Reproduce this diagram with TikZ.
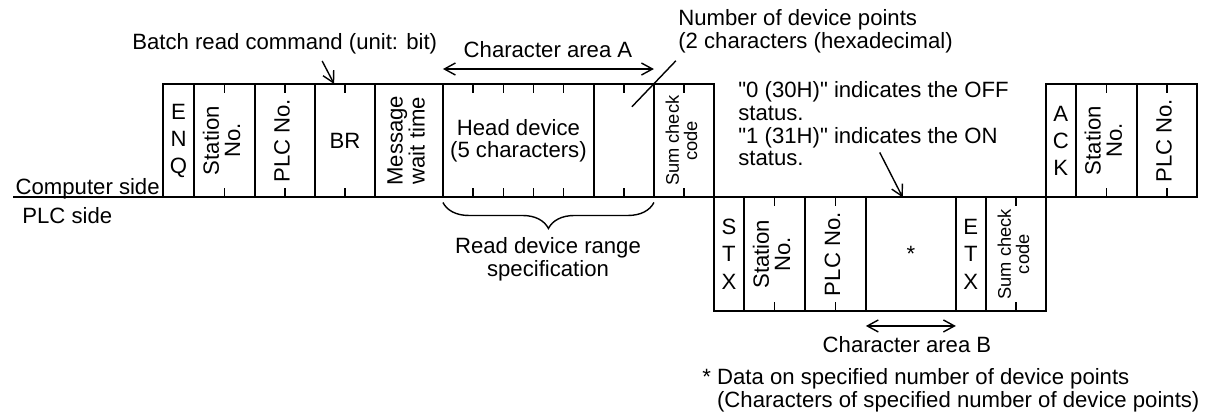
\documentclass[tikz,border=0pt]{standalone}
\usepackage{fontspec}
\setmainfont{Liberation Sans}
\usepackage{graphicx}
\usetikzlibrary{arrows.meta, positioning, calc, decorations.pathreplacing}

\newcommand{\vtext}[1]{\rotatebox{90}{\renewcommand{\arraystretch}{0.88}\begin{tabular}{@{}c@{}}#1\end{tabular}}}

\begin{document}
\begin{tikzpicture}[
  x=0.02cm, y=-0.02cm,
  font=\fontsize{12.6}{13}\selectfont,
  cell/.style={rectangle, draw=black, line width=1.1pt, minimum height=2.27cm,
               inner sep=0pt, outer sep=0pt, align=center},
  onechar/.style={cell, minimum width=0.6cm, font=\fontsize{12.6}{15.5}\selectfont},
  twochar/.style={cell, minimum width=1.2cm},
  smallfont/.style={font=\fontsize{10.4}{10.8}\selectfont},
  tickline/.style={line width=0.8pt},
  arrow/.style={-{Straight Barb[length=2.2mm, width=2.4mm]}, line width=0.8pt},
  darrow/.style={{Straight Barb[length=2.2mm, width=2.4mm]}-{Straight Barb[length=2.2mm, width=2.4mm]}, line width=0.8pt},
  note/.style={inner sep=0pt}
]
\useasboundingbox (0,0) rectangle (1221,414);

% computer side, command
\node[onechar, minimum width=0.62cm, anchor=north west] (enq) at (163,84) {E\\N\\Q};
\node[twochar, minimum width=1.22cm, right=0pt of enq] (stn1) {\vtext{Station\\No.}};
\node[twochar, right=0pt of stn1] (plc1) {\vtext{PLC No.}};
\node[twochar, right=0pt of plc1] (br) {BR};
\node[cell, minimum width=1.36cm, right=0pt of br] (wait) {\vtext{Message\\wait time}};
\node[cell, minimum width=3.02cm, right=0pt of wait] (head) {Head device\\(5 characters)};
\node[twochar, right=0pt of head] (pts) {};
\node[twochar, smallfont, right=0pt of pts] (csum) {\vtext{Sum check\\code}};

% PLC side, response
\node[onechar, anchor=north west] (stx) at (csum.south east) {S\\T\\X};
\node[twochar, minimum width=1.22cm, right=0pt of stx] (stn2) {\vtext{Station\\No.}};
\node[twochar, minimum width=1.22cm, right=0pt of stn2] (plc2) {\vtext{PLC No.}};
\node[cell, minimum width=1.8cm, right=0pt of plc2] (data) {*};
\node[onechar, right=0pt of data] (etx) {E\\T\\X};
\node[twochar, smallfont, right=0pt of etx] (psum) {\vtext{Sum check\\code}};

% computer side, acknowledge
\node[onechar, anchor=south west] (ack) at (psum.north east) {A\\C\\K};
\node[twochar, minimum width=1.22cm, right=0pt of ack] (stn3) {\vtext{Station\\No.}};
\node[twochar, right=0pt of stn3] (plc3) {\vtext{PLC No.}};

\coordinate (lstart) at (13,197);
\draw[line width=1.1pt] (lstart) -- (lstart -| plc3.south east);

% character ticks
\foreach \n in {stn1,plc1,br,pts,csum,stn2,plc2,psum,stn3,plc3} {
  \draw[tickline] (\n.north) -- ++(0,9);
  \draw[tickline] (\n.south) -- ++(0,-9);
}
\foreach \f in {0.2,0.4,0.6,0.8} {
  \draw[tickline] ($(head.north west)!\f!(head.north east)$) -- ++(0,9);
  \draw[tickline] ($(head.south west)!\f!(head.south east)$) -- ++(0,-9);
}

\node[note, anchor=base east] (cside) at (160,194) {Computer side};
\node[note, anchor=base west] (pside) at (22,223) {PLC side};

\node[note, anchor=base west] (batch) at (132,49) {Batch read command (unit: bit)};
\coordinate (brtip) at ($(br.north west)!0.32!(br.north east)$);
\draw[arrow] ([shift={(-12,-23)}]brtip) -- (brtip);

\node[note, anchor=base] (areaA) at (548,57) {Character area A};
\draw[darrow] ([yshift=0.3cm]head.north west) -- ([yshift=0.3cm]pts.north east);

\node[note, anchor=north west, align=left] (npts) at (678,9) {Number of device points\\(2 characters (hexadecimal)};
\coordinate (ptsend) at ([shift={(8,-34)}]pts.center);
\draw[line width=0.8pt] (ptsend) -- ++(44,-46);

\node[note, anchor=north west, align=left] (onoff) at (738,81)
  {\textquotedbl 0 (30H)\textquotedbl\ indicates the OFF\\status.\\\textquotedbl 1 (31H)\textquotedbl\ indicates the ON\\status.};
\coordinate (ontip) at ($(data.north west)!0.41!(data.north east)$);
\draw[arrow] ([shift={(-23,-45)}]ontip) -- (ontip);

\draw[line width=0.8pt, decorate, decoration={brace, mirror, amplitude=0.52cm}]
  ([yshift=-0.1cm]head.south west) -- ([yshift=-0.1cm]pts.south east);
\node[note, anchor=north, align=center] (range) at (548,237) {Read device range\\specification};

\draw[darrow] ([yshift=-0.3cm]data.south west) -- ([yshift=-0.3cm]data.south east);
\node[note, anchor=base] (areaB) at (907,352) {Character area B};

\node[note, anchor=north west, align=left] (foot) at (702,368)
  {* Data on specified number of device points\\\hphantom{* }(Characters of specified number of device points)};
\end{tikzpicture}
\end{document}
